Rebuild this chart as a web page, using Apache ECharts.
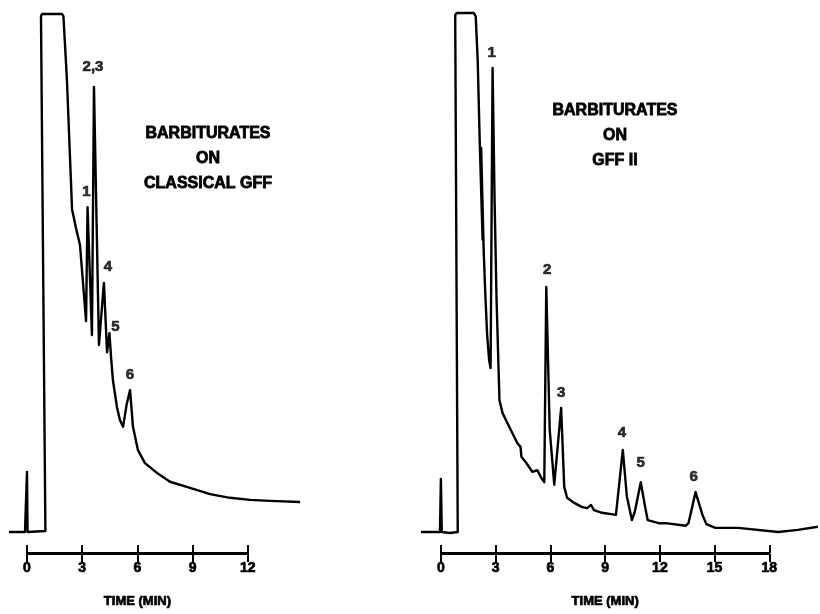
<!DOCTYPE html>
<html>
<head>
<meta charset="utf-8">
<script src="https://cdn.jsdelivr.net/npm/echarts@6/dist/echarts.min.js"></script>
<style>
  html, body { margin: 0; padding: 0; background: #ffffff; }
  #chart { width: 820px; height: 614px; }
</style>
</head>
<body>
<div id="chart"></div>
<script>
// ---------- data (time in min, detector response in % of full scale) ----------
const leftTime = [-0.98, -0.11, -0.03, 0.00, 0.03, 1.00, 0.76, 0.82, 1.90, 1.98, 2.17, 2.45, 2.55, 2.66, 2.88, 3.21, 3.29, 3.53, 3.64, 3.91, 4.18, 4.35, 4.48, 4.57, 4.67, 4.89, 5.05, 5.22, 5.41, 5.60, 5.76, 6.03, 6.41, 7.07, 7.77, 8.86, 9.95, 11.03, 12.12, 13.21, 14.84];
const leftSignal = [0, 0, 0, 11.6, 0, 0.2, 99.6, 100, 100, 99.6, 87.3, 62.2, 60.6, 58.7, 55.4, 40.7, 62.7, 38.0, 85.9, 36.1, 48.1, 34.7, 38.4, 33.6, 29.3, 24.1, 21.6, 20.3, 24.5, 27.4, 20.3, 15.8, 13.3, 11.4, 9.7, 8.5, 7.3, 6.6, 6.2, 6.0, 5.8];

const rightTime = [-1.10, -0.05, 0.00, 0.05, 0.49, 0.93, 0.79, 0.88, 1.81, 1.92, 2.03, 2.14, 2.30, 2.22, 2.36, 2.44, 2.55, 2.66, 2.74, 2.85, 2.96, 3.07, 3.23, 3.40, 3.78, 4.22, 4.39, 4.44, 4.71, 5.04, 5.32, 5.54, 5.70, 5.81, 6.00, 6.25, 6.63, 6.80, 6.96, 7.35, 7.79, 8.06, 8.28, 8.44, 8.88, 9.65, 10.03, 10.25, 10.53, 10.69, 11.02, 11.24, 11.40, 12.01, 12.39, 13.49, 13.65, 14.04, 14.42, 14.64, 15.13, 16.39, 18.59, 19.68, 20.78];
const rightSignal = [0, 0, 10.2, 0, -0.2, 0, 99.6, 100, 100, 99.4, 90.9, 75.5, 56.3, 74.0, 54.3, 46.6, 38.0, 33.1, 31.6, 89.4, 64.0, 44.7, 25.4, 22.9, 20.2, 17.1, 16.4, 14.5, 13.3, 11.6, 11.9, 10.4, 9.6, 47.2, 19.7, 9.1, 23.9, 8.7, 6.6, 5.6, 4.8, 4.6, 5.2, 4.2, 3.7, 3.3, 15.8, 6.9, 2.3, 3.9, 9.6, 5.2, 2.3, 1.7, 1.7, 1.2, 1.7, 7.7, 3.3, 1.5, 0.8, 0.8, 0, 0.4, 1.0];

const leftPeakNames = ['1', '2,3', '4', '5', '6'];
const leftPeakTime = [3.29, 3.64, 4.18, 4.48, 5.60];
const leftPeakHeight = [62.7, 85.9, 48.1, 38.4, 27.4];

const rightPeakNames = ['1', '2', '3', '4', '5', '6'];
const rightPeakTime = [2.85, 5.81, 6.63, 10.03, 11.02, 14.04];
const rightPeakHeight = [89.4, 47.2, 23.9, 15.8, 9.6, 7.7];

const leftTicks = [0, 3, 6, 9, 12];
const rightTicks = [0, 3, 6, 9, 12, 15, 18];

const leftTitle = ['BARBITURATES', 'ON', 'CLASSICAL GFF'];
const rightTitle = ['BARBITURATES', 'ON', 'GFF II'];
const axisTitle = 'TIME (MIN)';

// ---------- styling / layout ----------
const FONT = '"Liberation Sans", Arial, Helvetica, sans-serif';
const INK = '#000000';
const leftLabelOffsets = [[-1, 0], [-1, -5], [4, -1], [6, 9], [0, 0]];
const rightLabelOffsets = [[-1, 0], [1, -2], [0, 0], [-1, -2], [0, -4], [-2, 0]];

const zip = (a, b) => a.map((v, i) => [v, b[i]]);

function peakData(names, times, heights, offsets) {
  return names.map((n, i) => ({
    value: [times[i], heights[i]],
    name: n,
    label: { offset: offsets[i] }
  }));
}

function hiddenAxis(extra) {
  return Object.assign({
    type: 'value', show: false, splitLine: { show: false },
    axisLine: { show: false }, axisTick: { show: false }, axisLabel: { show: false }
  }, extra);
}

function timeAxes(gridIndex, ticks) {
  const maxT = ticks[ticks.length - 1];
  const common = {
    type: 'value', gridIndex: gridIndex, min: 0, max: maxT, interval: 3,
    axisLine: { show: true, lineStyle: { color: INK, width: 2 } },
    splitLine: { show: false }
  };
  return [
    Object.assign({}, common, {
      position: 'bottom',
      axisTick: { show: true, inside: false, length: 8, lineStyle: { color: INK, width: 2 } },
      axisLabel: { show: true, margin: 7, color: INK, fontFamily: FONT, fontWeight: 'bold', fontSize: 14,
        textBorderColor: INK, textBorderWidth: 0.7,
        formatter: v => (ticks.indexOf(v) >= 0 ? String(v) : '') },
      name: axisTitle, nameLocation: 'middle', nameGap: 41,
      nameTextStyle: { color: INK, fontFamily: FONT, fontWeight: 'bold', fontSize: 13,
        textBorderColor: INK, textBorderWidth: 0.7 }
    }),
    Object.assign({}, common, {
      position: 'top',
      axisTick: { show: true, inside: false, length: 8, lineStyle: { color: INK, width: 2 } },
      axisLabel: { show: false }
    })
  ];
}

const leftXAxis0 = 27, leftPxPerMin = 18.4;
const rightXAxis0 = 441, rightPxPerMin = 18.24;
const leftXMin = -1.2, leftXMax = 15.2;
const rightXMin = -1.2, rightXMax = 20.9;

const peakLabel = {
  show: true, position: 'top', distance: 7, color: INK,
  fontFamily: FONT, fontWeight: 'bold', fontSize: 15,
  textBorderColor: INK, textBorderWidth: 0.7,
  formatter: p => p.name
};

function titleText(lines, cx, top) {
  return {
    type: 'text', x: cx, y: top,
    style: {
      text: lines.join('\n'), align: 'center', textAlign: 'center', verticalAlign: 'top', fill: INK,
      font: 'bold 16px ' + FONT, lineHeight: 25,
      stroke: INK, lineWidth: 0.8
    }
  };
}

const option = {
  backgroundColor: '#ffffff',
  animation: false,
  grid: [
    { left: leftXAxis0 + leftXMin * leftPxPerMin, width: (leftXMax - leftXMin) * leftPxPerMin, top: 14, height: 518 },
    { left: rightXAxis0 + rightXMin * rightPxPerMin, width: (rightXMax - rightXMin) * rightPxPerMin, top: 13, height: 519 },
    { left: leftXAxis0, width: 12 * leftPxPerMin, top: 553, height: 1 },
    { left: rightXAxis0, width: 18 * rightPxPerMin, top: 553, height: 1 }
  ],
  xAxis: [
    hiddenAxis({ gridIndex: 0, min: leftXMin, max: leftXMax }),
    hiddenAxis({ gridIndex: 1, min: rightXMin, max: rightXMax })
  ].concat(timeAxes(2, leftTicks), timeAxes(3, rightTicks)),
  yAxis: [
    hiddenAxis({ gridIndex: 0, min: 0, max: 100 }),
    hiddenAxis({ gridIndex: 1, min: 0, max: 100 }),
    hiddenAxis({ gridIndex: 2, min: 0, max: 1 }),
    hiddenAxis({ gridIndex: 3, min: 0, max: 1 })
  ],
  series: [
    {
      type: 'line', xAxisIndex: 0, yAxisIndex: 0, data: zip(leftTime, leftSignal),
      showSymbol: false, symbol: 'none', clip: false, smooth: false,
      lineStyle: { color: INK, width: 2.4, join: 'round' }
    },
    {
      type: 'line', xAxisIndex: 1, yAxisIndex: 1, data: zip(rightTime, rightSignal),
      showSymbol: false, symbol: 'none', clip: false, smooth: false,
      lineStyle: { color: INK, width: 2.4, join: 'round' }
    },
    {
      type: 'scatter', xAxisIndex: 0, yAxisIndex: 0, symbolSize: 1,
      itemStyle: { color: 'rgba(0,0,0,0)' }, label: peakLabel, silent: true,
      data: peakData(leftPeakNames, leftPeakTime, leftPeakHeight, leftLabelOffsets)
    },
    {
      type: 'scatter', xAxisIndex: 1, yAxisIndex: 1, symbolSize: 1,
      itemStyle: { color: 'rgba(0,0,0,0)' }, label: peakLabel, silent: true,
      data: peakData(rightPeakNames, rightPeakTime, rightPeakHeight, rightLabelOffsets)
    }
  ],
  graphic: [
    titleText(leftTitle, 208, 121),
    titleText(rightTitle, 615, 98)
  ]
};

const chart = echarts.init(document.getElementById('chart'), null, { renderer: 'canvas' });
chart.setOption(option);
</script>
</body>
</html>
